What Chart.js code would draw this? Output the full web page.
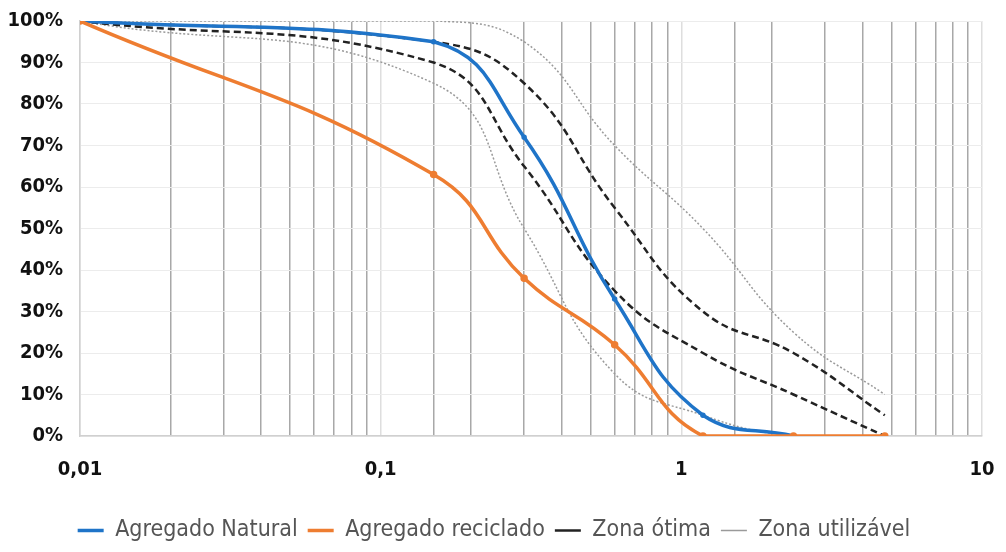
<!DOCTYPE html>
<html>
<head>
<meta charset="utf-8">
<script src="https://cdn.jsdelivr.net/npm/chart.js@4/dist/chart.umd.min.js"></script>
<style>
  html, body { margin: 0; padding: 0; background: #fff; }
  #wrap { width: 1006px; height: 552px; }
</style>
</head>
<body>
<div id="wrap"><canvas id="curva"></canvas></div>
<script>
// abertura das peneiras (mm)
const peneiras = [0.01, 0.15, 0.3, 0.6, 1.18, 2.36, 4.75];

const natural = [100, 95, 72, 33, 5, 0, null];
const reciclado = [100, 63, 38, 22, 0, 0, 0];
const otimaSup = [100, 95, 85, 55, 30, 20, 5];
const otimaInf = [100, 90, 65, 35, 20, 10, 0];
const utilSup = [100, 100, 95, 70, 50, 25, 10];
const utilInf = [100, 85, 50, 15, 5, 0, 0];

const xLabels = { 0.01: '0,01', 0.1: '0,1', 1: '1', 10: '10' };
const yTicks = [0, 10, 20, 30, 40, 50, 60, 70, 80, 90, 100];

const font = "'Liberation Sans Narrow', 'DejaVu Sans Condensed', 'Liberation Sans', sans-serif";

const pts = (vals) => peneiras
  .map((x, i) => ({ x: x, y: vals[i] }))
  .filter(p => p.y !== null);

const isMajor = (v) => Math.abs(Math.log10(v) - Math.round(Math.log10(v))) < 1e-6;

// sem folga extra das escalas, a margem fica so com layout.padding
const noPad = (s) => {
  s.paddingTop = 0; s.paddingBottom = 0; s.paddingLeft = 0; s.paddingRight = 0;
};

const ctx = document.getElementById('curva');

new Chart(ctx, {
  type: 'line',
  data: {
    datasets: [
      {
        label: 'Agregado Natural',
        data: pts(natural),
        borderColor: '#1f74c8',
        backgroundColor: '#1f74c8',
        borderWidth: 3.5,
        pointRadius: 1,
        order: 1
      },
      {
        label: 'Agregado reciclado',
        data: pts(reciclado),
        borderColor: '#ee7d31',
        backgroundColor: '#ee7d31',
        borderWidth: 3.5,
        pointRadius: 2,
        order: 0
      },
      {
        label: 'Zona ótima',
        data: pts(otimaSup),
        borderColor: '#222',
        backgroundColor: '#222',
        borderWidth: 2.5,
        borderDash: [7, 4],
        pointRadius: 0,
        order: 2
      },
      {
        label: 'Zona ótima inf',
        data: pts(otimaInf),
        borderColor: '#222',
        backgroundColor: '#222',
        borderWidth: 2.5,
        borderDash: [7, 4],
        pointRadius: 0,
        order: 2
      },
      {
        label: 'Zona utilizável',
        data: pts(utilSup),
        borderColor: '#9a9a9a',
        backgroundColor: '#9a9a9a',
        borderWidth: 1.5,
        borderDash: [2, 2],
        pointRadius: 0,
        order: 3
      },
      {
        label: 'Zona utilizável inf',
        data: pts(utilInf),
        borderColor: '#9a9a9a',
        backgroundColor: '#9a9a9a',
        borderWidth: 1.5,
        borderDash: [2, 2],
        pointRadius: 0,
        order: 3
      }
    ]
  },
  options: {
    responsive: true,
    maintainAspectRatio: false,
    animation: false,
    elements: { line: { tension: 0.45, fill: false } },
    layout: { padding: { top: 21, right: 24, left: 6, bottom: 0 } },
    scales: {
      x: {
        type: 'logarithmic',
        min: 0.01,
        max: 10,
        afterFit: (s) => { s.height = 73; noPad(s); },
        border: { color: '#d0d0d0', width: 1.5 },
        grid: {
          drawTicks: false,
          lineWidth: 1.5,
          color: (c) => (c.tick && isMajor(c.tick.value)) ? '#dedede' : '#a8a8a8'
        },
        ticks: {
          autoSkip: false,
          maxRotation: 0,
          padding: 22,
          color: '#111',
          font: { family: font, size: 20, weight: 'bold' },
          callback: (v) => {
            for (const k in xLabels) {
              if (Math.abs(Number(k) - v) < 1e-9) return xLabels[k];
            }
            return '';
          }
        }
      },
      y: {
        min: 0,
        max: 100,
        afterFit: (s) => { s.width = 74; noPad(s); },
        afterBuildTicks: (s) => { s.ticks = yTicks.map(v => ({ value: v })); },
        border: { color: '#d0d0d0', width: 1.5 },
        grid: { drawTicks: false, color: '#ececec', lineWidth: 1 },
        ticks: {
          padding: 17,
          color: '#111',
          font: { family: font, size: 20, weight: 'bold' },
          callback: (v) => v + '%'
        }
      }
    },
    plugins: {
      tooltip: { enabled: false },
      legend: {
        position: 'bottom',
        labels: {
          usePointStyle: true,
          pointStyle: 'line',
          pointStyleWidth: 26,
          boxHeight: 20,
          padding: 10,
          color: '#555',
          font: { family: font, size: 23 },
          filter: (item) => !item.text.endsWith(' inf'),
          sort: (a, b) => a.datasetIndex - b.datasetIndex
        }
      }
    }
  }
});
</script>
</body>
</html>
